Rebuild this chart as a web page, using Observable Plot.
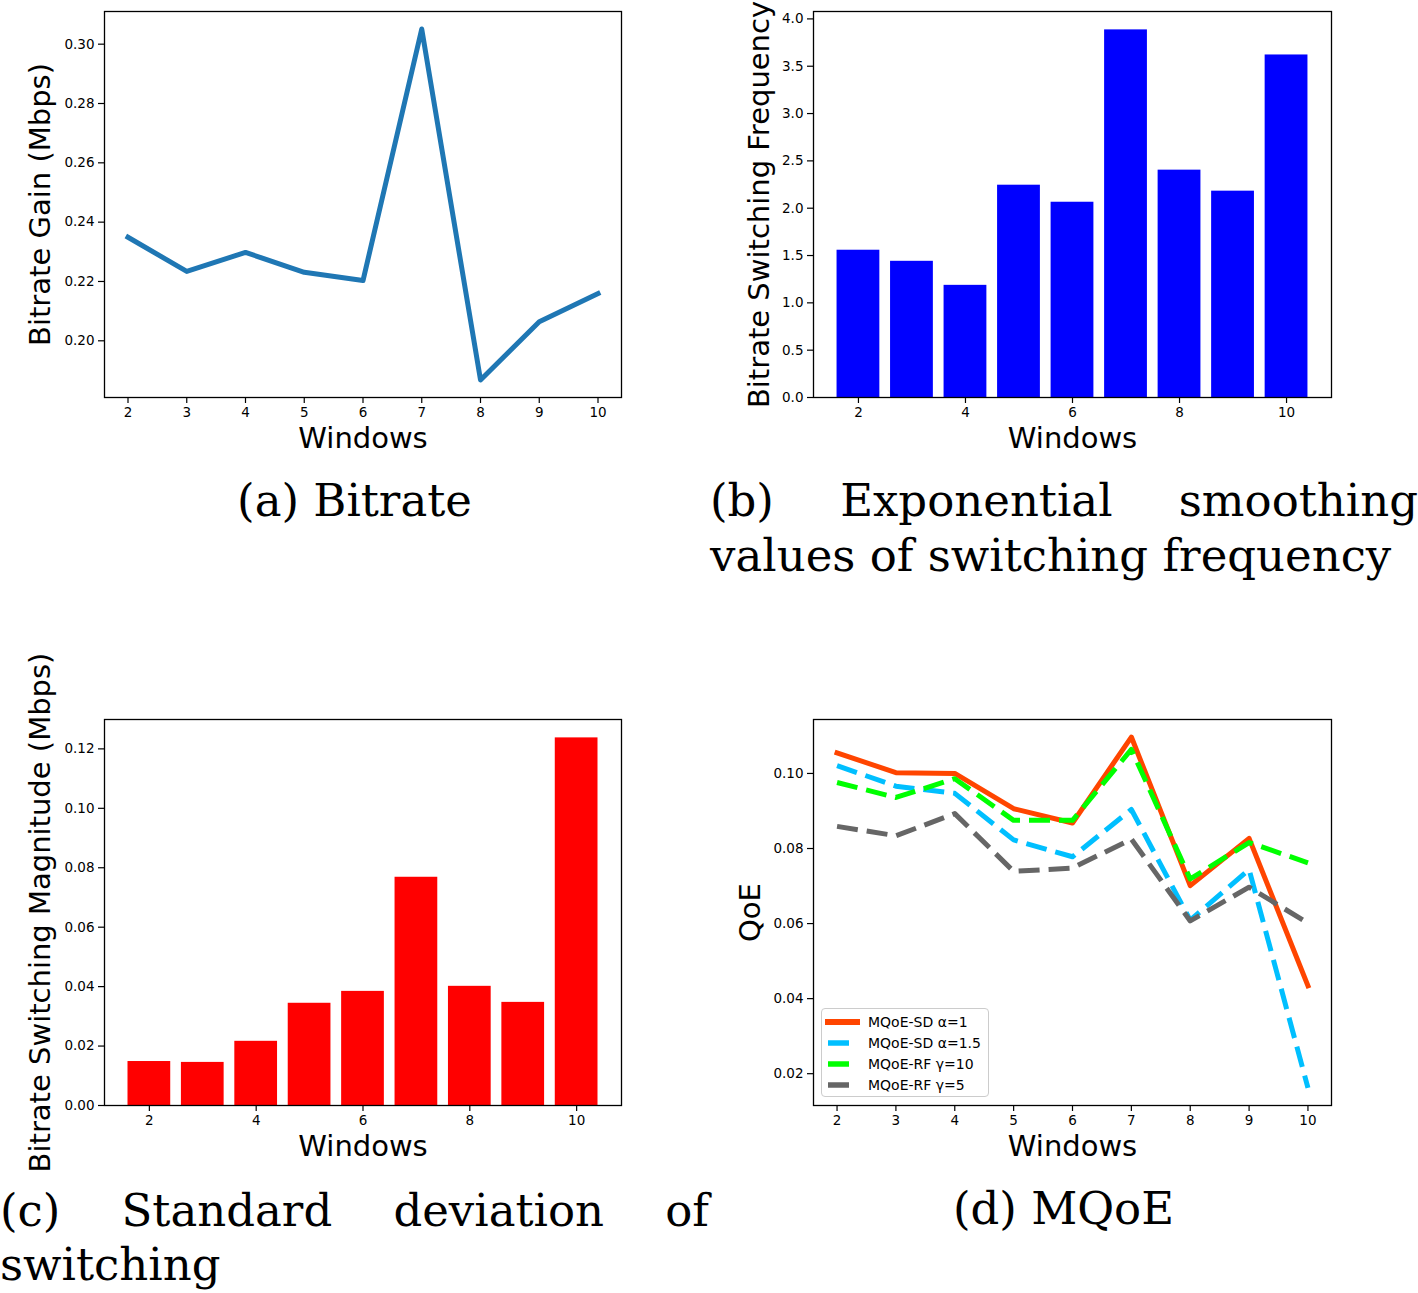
<!DOCTYPE html>
<html><head><meta charset="utf-8">
<script src="https://cdn.jsdelivr.net/npm/d3@7"></script>
<script src="https://cdn.jsdelivr.net/npm/@observablehq/plot@0.6"></script>
<style>
html,body{margin:0;padding:0;background:#fff;}
#page{position:relative;width:1418px;height:1293px;overflow:hidden;background:#fff;}
.panel{position:absolute;}
.panel svg{overflow:visible;max-width:none !important;}
.cap{position:absolute;font-family:"DejaVu Serif",serif;font-size:45px;color:#000;white-space:nowrap;}
.just{display:flex;justify-content:space-between;}
.legend{position:absolute;left:821px;top:1008px;width:168px;height:89px;border:1px solid #cccccc;border-radius:4px;background:rgba(255,255,255,0.8);box-sizing:border-box;font-family:"DejaVu Sans",sans-serif;font-size:14px;color:#000;}
.legend .row{position:absolute;left:0;height:20px;display:flex;align-items:center;}
.legend svg{display:block;}
</style></head><body><div id="page"></div>
<script>
// ---------- data ----------
const windows = [2, 3, 4, 5, 6, 7, 8, 9, 10];
const bitrateGain = [0.2349, 0.2234, 0.2298, 0.2231, 0.2203, 0.3051, 0.1868, 0.2064, 0.2159];
const switchFreq = [1.556, 1.439, 1.185, 2.243, 2.063, 3.884, 2.402, 2.180, 3.619];
const switchMag = [0.0148, 0.0145, 0.0216, 0.0344, 0.0384, 0.0768, 0.0401, 0.0347, 0.1237];
const seriesNames = ["MQoE-SD α=1", "MQoE-SD α=1.5", "MQoE-RF γ=10", "MQoE-RF γ=5"];
const qoeSD1 = [0.1055, 0.1002, 0.1000, 0.0906, 0.0868, 0.1097, 0.0701, 0.0827, 0.0434];
const qoeSD15 = [0.1021, 0.0966, 0.0947, 0.0823, 0.0778, 0.0904, 0.0609, 0.0744, 0.0162];
const qoeRF10 = [0.0976, 0.0936, 0.0986, 0.0875, 0.0875, 0.1064, 0.0719, 0.0816, 0.0762];
const qoeRF5 = [0.0859, 0.0834, 0.0893, 0.0739, 0.0748, 0.0825, 0.0607, 0.0697, 0.0601];
const seriesColors = ["#FF4500", "#00BFFF", "#00FF00", "#666666"];
const ticksA = [2, 3, 4, 5, 6, 7, 8, 9, 10];
const ticksB = [2, 4, 6, 8, 10];
const yTicksA = [0.20, 0.22, 0.24, 0.26, 0.28, 0.30];
const yTicksB = [0, 0.5, 1.0, 1.5, 2.0, 2.5, 3.0, 3.5, 4.0];
const yTicksC = [0, 0.02, 0.04, 0.06, 0.08, 0.10, 0.12];
const yTicksD = [0.02, 0.04, 0.06, 0.08, 0.10];

// ---------- helpers ----------
const page = document.getElementById("page");
const rows = (vals) => windows.map((w, i) => ({w, v: vals[i]}));
function pad(lo, hi) { const m = (hi - lo) * 0.05; return [lo - m, hi + m]; }

function panel(o) {
  const chart = Plot.plot({
    width: o.width, height: o.height,
    marginLeft: o.ml, marginRight: o.mr, marginTop: o.mt, marginBottom: o.mb,
    style: {fontFamily: "DejaVu Sans, sans-serif", fontSize: "13.5px", background: "transparent", color: "black", overflow: "visible"},
    x: {type: "linear", domain: o.xDomain},
    y: {type: "linear", domain: o.yDomain},
    marks: [
      ...o.marks,
      Plot.frame({stroke: "black", strokeWidth: 1.3}),
      Plot.axisX({ticks: o.xTicks, tickFormat: d => String(d), tickSize: 6, tickPadding: 4, fontSize: 13.5, stroke: "black", strokeWidth: 1.2, label: null}),
      Plot.axisY({ticks: o.yTicks, tickFormat: d3.format(o.yFmt), tickSize: 6, tickPadding: 4, fontSize: 13.5, stroke: "black", strokeWidth: 1.2, label: null}),
      Plot.text(["Windows"], {text: d => d, frameAnchor: "bottom", dy: 41, fontSize: 29, fill: "black", textAnchor: "middle", lineAnchor: "middle"}),
      Plot.text([o.ylabel], {text: d => d, frameAnchor: "left", dx: o.ylDx, rotate: -90, fontSize: 29, fill: "black", textAnchor: "middle", lineAnchor: "middle"})
    ]
  });
  const div = document.createElement("div");
  div.className = "panel";
  div.style.left = o.left + "px";
  div.style.top = o.top + "px";
  div.appendChild(chart);
  page.appendChild(div);
}

// (a) Bitrate gain line
panel({
  left: 0, top: 0, width: 709, height: 460, ml: 104, mr: 88, mt: 11, mb: 63,
  xDomain: pad(2, 10), yDomain: pad(d3.min(bitrateGain), d3.max(bitrateGain)),
  xTicks: ticksA, yTicks: yTicksA, yFmt: ".2f", ylabel: "Bitrate Gain (Mbps)", ylDx: -64,
  marks: [Plot.line(rows(bitrateGain), {x: "w", y: "v", stroke: "#1f77b4", strokeWidth: 5, strokeLinejoin: "round", strokeLinecap: "square"})]
});

// (b) switching frequency bars
panel({
  left: 709, top: 0, width: 709, height: 460, ml: 104, mr: 87, mt: 11, mb: 63,
  xDomain: pad(1.6, 10.4), yDomain: [0, d3.max(switchFreq) * 1.05],
  xTicks: ticksB, yTicks: yTicksB, yFmt: ".1f", ylabel: "Bitrate Switching Frequency", ylDx: -54,
  marks: [Plot.rect(rows(switchFreq), {x1: d => d.w - 0.4, x2: d => d.w + 0.4, y1: 0, y2: "v", fill: "#0000FF"})]
});

// (c) switching magnitude bars
panel({
  left: 0, top: 660, width: 709, height: 520, ml: 104, mr: 88, mt: 59, mb: 75,
  xDomain: pad(1.6, 10.4), yDomain: [0, d3.max(switchMag) * 1.05],
  xTicks: ticksB, yTicks: yTicksC, yFmt: ".2f", ylabel: "Bitrate Switching Magnitude (Mbps)", ylDx: -64,
  marks: [Plot.rect(rows(switchMag), {x1: d => d.w - 0.4, x2: d => d.w + 0.4, y1: 0, y2: "v", fill: "#FF0000"})]
});

// (d) MQoE lines
const qoeSeries = [qoeSD1, qoeSD15, qoeRF10, qoeRF5];
const allQ = qoeSeries.flat();
panel({
  left: 709, top: 660, width: 709, height: 520, ml: 104, mr: 87, mt: 59, mb: 75,
  xDomain: pad(2, 10), yDomain: pad(d3.min(allQ), d3.max(allQ)),
  xTicks: ticksA, yTicks: yTicksD, yFmt: ".2f", ylabel: "QoE", ylDx: -63,
  marks: qoeSeries.map((s, i) => Plot.line(rows(s), {
    x: "w", y: "v", stroke: seriesColors[i], strokeWidth: 5, strokeLinejoin: "round",
    strokeLinecap: i === 0 ? "square" : "butt", strokeDasharray: i === 0 ? null : "21,9"
  }))
});

// legend for (d)
const leg = document.createElement("div");
leg.className = "legend";
const rowY = [3, 24, 45, 66];
seriesNames.forEach((name, i) => {
  const r = document.createElement("div");
  r.className = "row";
  r.style.top = rowY[i] + "px";
  const x1 = i === 0 ? 3 : 6, x2 = i === 0 ? 38 : 27;
  r.innerHTML = `<svg width="46" height="20"><line x1="${x1}" x2="${x2}" y1="10" y2="10" stroke="${seriesColors[i]}" stroke-width="${i === 0 ? 6 : 5.5}"/></svg><span>${name}</span>`;
  leg.appendChild(r);
});
page.appendChild(leg);

// captions
function cap(left, top, width, html, cls, align) {
  const d = document.createElement("div");
  d.className = "cap" + (cls ? " " + cls : "");
  d.style.left = left + "px"; d.style.top = top + "px"; d.style.width = width + "px";
  d.style.textAlign = align || "left";
  d.innerHTML = html;
  page.appendChild(d);
}
const words = ws => ws.map(w => `<span>${w}</span>`).join("");
cap(0, 474, 709, "(a) Bitrate", "", "center");
cap(710, 474, 708, words(["(b)", "Exponential", "smoothing"]), "just");
cap(710, 529, 708, "values of switching frequency");
cap(0, 1184, 709, words(["(c)", "Standard", "deviation", "of"]), "just");
cap(0, 1238, 709, "switching");
cap(709, 1182, 709, "(d) MQoE", "", "center");
</script></body></html>
